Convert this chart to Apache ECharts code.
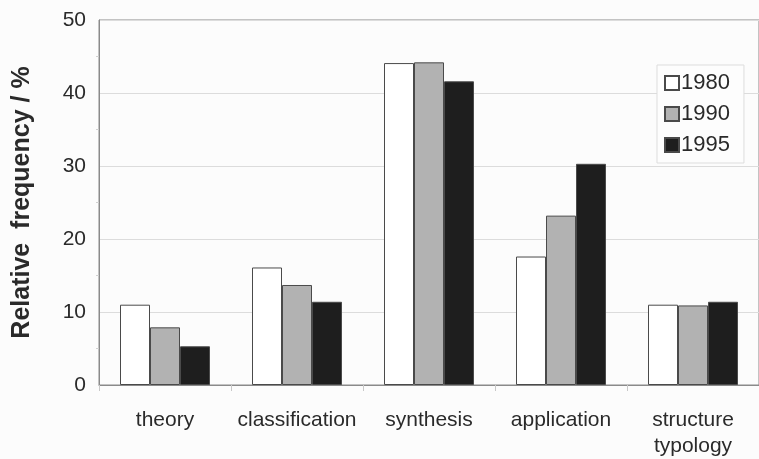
<!DOCTYPE html>
<html><head><meta charset="utf-8">
<script src="https://cdn.jsdelivr.net/npm/echarts@6/dist/echarts.min.js"></script>
<style>html,body{margin:0;padding:0;background:#fcfcfc;overflow:hidden;width:759px;height:459px;}#c{width:759px;height:459px;overflow:hidden;}</style>
</head><body><div id="c"></div>
<script>
const categories = ['theory', 'classification', 'synthesis', 'application', 'structure\ntypology'];
const seriesNames = ['1980', '1990', '1995'];
const v1980 = [11.0, 16.1, 44.1, 17.6, 11.0];
const v1990 = [7.9, 13.7, 44.2, 23.2, 10.9];
const v1995 = [5.3, 11.4, 41.6, 30.3, 11.4];
const yTicks = [0, 10, 20, 30, 40, 50];

const font = 'Liberation Sans, Arial, sans-serif';
const fills = ['#ffffff', '#b2b2b2', '#1e1e1e'];
const values = [v1980, v1990, v1995];

const chart = echarts.init(document.getElementById('c'), null, {renderer: 'canvas'});
chart.setOption({
  backgroundColor: '#fcfcfc',
  animation: false,
  grid: {left: 99, top: 20, width: 670, height: 370, show: true, borderColor: '#8a8a8a', borderWidth: 1, backgroundColor: 'transparent'},
  legend: {
    orient: 'vertical', left: 657, top: 65,
    data: seriesNames,
    itemWidth: 14, itemHeight: 14, itemGap: 9,
    padding: [7, 14, 7, 7],
    borderColor: '#dddddd', borderWidth: 1, backgroundColor: '#fdfdfd',
    textStyle: {fontFamily: font, fontSize: 22, color: '#2a2a2a', padding: [0, 0, 0, -3], lineHeight: 21},
    icon: 'rect'
  },
  xAxis: {
    type: 'category', data: categories,
    axisLine: {lineStyle: {color: '#8a8a8a', width: 1}},
    axisTick: {show: true, interval: 0, length: 6, lineStyle: {color: '#c8c8c8'}},
    axisLabel: {interval: 0, fontFamily: font, fontSize: 21, color: '#2a2a2a', margin: 22, lineHeight: 26}
  },
  yAxis: {
    type: 'value', min: 0, max: 50, interval: 10,
    name: 'Relative  frequency / %', nameLocation: 'middle', nameGap: 64, nameRotate: 90,
    nameTextStyle: {fontFamily: font, fontSize: 25, fontWeight: 'bold', color: '#2a2a2a'},
    axisLine: {show: true, lineStyle: {color: '#8a8a8a'}},
    axisTick: {show: false},
    minorTick: {show: true, splitNumber: 2, length: 3, lineStyle: {color: '#d0d0d0'}},
    axisLabel: {fontFamily: font, fontSize: 21, color: '#2a2a2a', margin: 13,
      formatter: v => yTicks.includes(v) ? String(v) : ''},
    splitLine: {show: true, lineStyle: {color: '#dcdcdc', width: 1}}
  },
  series: seriesNames.map((n, i) => ({
    name: n, type: 'bar', data: values[i],
    barWidth: 30, barGap: '0%',
    itemStyle: {color: fills[i], borderColor: '#4a4a4a', borderWidth: 1}
  }))
});
</script></body></html>
